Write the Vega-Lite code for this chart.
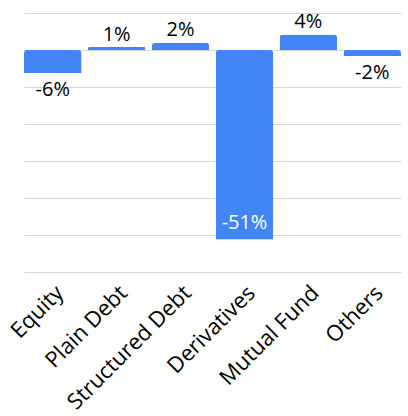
{
  "$schema": "https://vega.github.io/schema/vega-lite/v6.json",
  "autosize": "none",
  "width": 377,
  "height": 259,
  "padding": {"left": 24, "top": 13, "right": 7, "bottom": 144},
  "background": "white",
  "config": {
    "view": {"stroke": null},
    "font": "Open Sans"
  },
  "data": {
    "values": [
      {"category": "Equity", "value": -6.2, "label": "-6%"},
      {"category": "Plain Debt", "value": 0.8, "label": "1%"},
      {"category": "Structured Debt", "value": 1.9, "label": "2%"},
      {"category": "Derivatives", "value": -51.2, "label": "-51%"},
      {"category": "Mutual Fund", "value": 4.2, "label": "4%"},
      {"category": "Others", "value": -1.6, "label": "-2%"}
    ]
  },
  "encoding": {
    "x": {
      "field": "category",
      "type": "nominal",
      "sort": null,
      "scale": {"paddingInner": 0.1, "paddingOuter": 0},
      "axis": {
        "title": null,
        "labelAngle": -45,
        "labelFontSize": 22,
        "labelColor": "#000000",
        "labelFont": "Open Sans",
        "ticks": false,
        "domain": false,
        "labelPadding": 10
      }
    },
    "y": {
      "field": "value",
      "type": "quantitative",
      "scale": {"domain": [-60, 10], "nice": false},
      "axis": {
        "title": null,
        "labels": false,
        "ticks": false,
        "domain": false,
        "values": [-60, -50, -40, -30, -20, -10, 0, 10],
        "gridColor": "#d6d6d6",
        "gridWidth": 1
      }
    }
  },
  "layer": [
    {
      "mark": {"type": "bar", "color": "#4285F4", "cornerRadiusEnd": 3}
    },
    {
      "transform": [{"filter": "datum.value >= 0"}],
      "mark": {"type": "text", "baseline": "alphabetic", "dy": -6.5, "fontSize": 20, "color": "#000000"},
      "encoding": {"text": {"field": "label"}}
    },
    {
      "transform": [{"filter": "datum.value < 0 && datum.value > -40"}],
      "mark": {"type": "text", "baseline": "alphabetic", "dy": 23, "fontSize": 20, "color": "#000000"},
      "encoding": {"text": {"field": "label"}}
    },
    {
      "transform": [{"filter": "datum.value <= -40"}],
      "mark": {"type": "text", "baseline": "alphabetic", "dy": -10, "fontSize": 20, "color": "#ffffff"},
      "encoding": {"text": {"field": "label"}}
    }
  ]
}
